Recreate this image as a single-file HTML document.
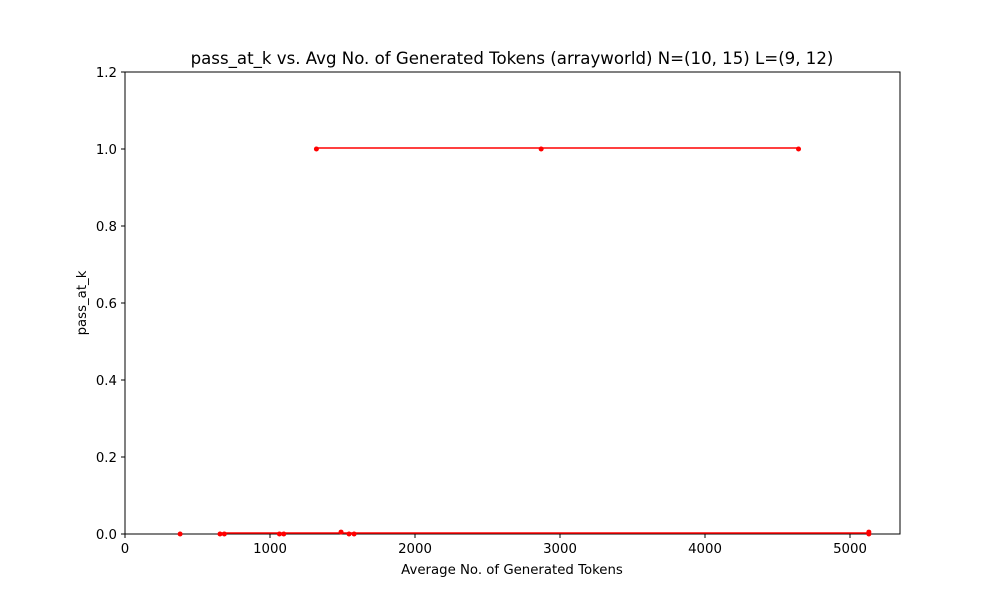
<!DOCTYPE html>
<html><head><meta charset="utf-8"><style>body{margin:0;background:#fff}svg{font-family:"DejaVu Sans","Liberation Sans",sans-serif}</style></head>
<body>
<svg id="chart" width="1000" height="600">
<defs><clipPath id="clip"><rect x="125" y="72" width="775" height="465"/></clipPath></defs>
<text x="512" y="64" font-size="16.6" text-anchor="middle">pass_at_k vs. Avg No. of Generated Tokens (arrayworld) N=(10, 15) L=(9, 12)</text>
<rect x="125" y="72" width="775" height="462" fill="none" stroke="#000" stroke-width="1"/>
<g id="plot" clip-path="url(#clip)"></g>
<g id="axes"></g>
<text x="512" y="574" font-size="13.3" text-anchor="middle">Average No. of Generated Tokens</text>
<text x="86" y="303" font-size="13.3" text-anchor="middle" transform="rotate(-90 86 303)">pass_at_k</text>
</svg>
<script>
const xTicks=[0,1000,2000,3000,4000,5000];
const yTicks=[0.0,0.2,0.4,0.6,0.8,1.0,1.2];
const seriesA_x=[1320,2870,4645];
const seriesA_y=[1.0,1.0,1.0];
const seriesB_x=[380];
const seriesB_y=[0.0];
const seriesC_x=[655,685,1065,1095,1545,1580,5130];
const seriesC_y=[0.0,0.0,0.0,0.0,0.0,0.0,0.0];
const seriesD_x=[1490,5130];
const seriesD_y=[0.005,0.005];
const X=v=>125+v*0.145;
const Y=v=>534-v*385;
const NS="http://www.w3.org/2000/svg";
const plot=document.getElementById('plot'),axes=document.getElementById('axes');
function mk(t,a,p){const e=document.createElementNS(NS,t);for(const k in a)e.setAttribute(k,a[k]);p.appendChild(e);return e;}
xTicks.forEach(t=>{
 const l=mk('line',{x1:X(t),x2:X(t),y1:534,y2:538,stroke:'#000'},axes);
 
 
 const s=mk('text',{x:X(t),y:553,'font-size':13.3,'text-anchor':'middle'},axes);s.textContent=t;
 
 
});
yTicks.forEach(t=>{
 const l=mk('line',{x1:121,x2:125,y1:Y(t),y2:Y(t),stroke:'#000'},axes);
 
 
 const s=mk('text',{x:117,y:Y(t)+5,'font-size':13.3,'text-anchor':'end'},axes);s.textContent=t.toFixed(1);
 
 
});
function series(xs,ys,name,line){
 if(line&&xs.length>1){const p=mk('polyline',{points:xs.map((x,i)=>X(x)+','+(Y(ys[i])-1)).join(' '),fill:'none',stroke:'red','stroke-width':1.5},plot);
 
 }
 xs.forEach((x,i)=>{const c=mk('circle',{cx:X(x),cy:Y(ys[i]),r:2.5,fill:'red'},plot);
 
 });
}
series(seriesA_x,seriesA_y,'series-a',true);
series(seriesB_x,seriesB_y,'series-b',false);
series(seriesC_x,seriesC_y,'series-c',true);
series(seriesD_x,seriesD_y,'series-d',false);
</script>
</body></html>
